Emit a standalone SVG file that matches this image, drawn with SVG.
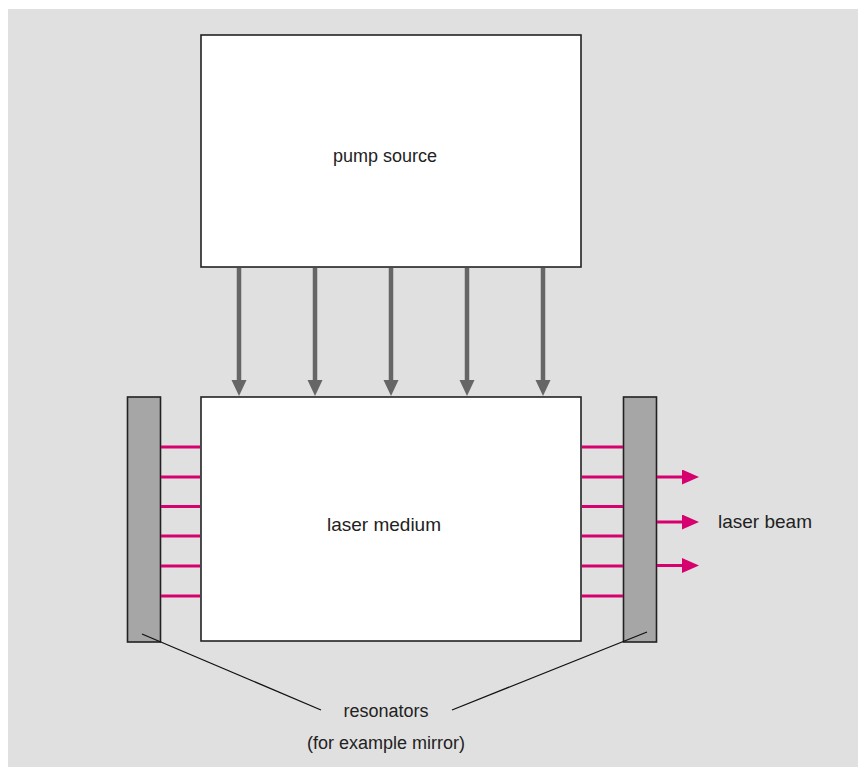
<svg xmlns="http://www.w3.org/2000/svg" width="858" height="767" viewBox="0 0 858 767">
<style>
.box{fill:#ffffff;stroke:#222222;stroke-width:1.6}
.mirror{fill:#a6a6a6;stroke:#222222;stroke-width:1.6}
.pump{stroke:#666666;stroke-width:4.5;fill:none}
.beam{stroke:#d6006e;stroke-width:3;fill:none}
.leader{stroke:#111111;stroke-width:1.3;fill:none}
text{font-family:"Liberation Sans",Arial,sans-serif;fill:#222222;font-size:18px;text-anchor:middle}
</style>
<defs>
<marker id="grayhead" markerUnits="userSpaceOnUse" markerWidth="16" markerHeight="16" refX="5" refY="7.5" orient="auto">
<path d="M0,0 L16,7.5 L0,15 z" fill="#666666"/>
</marker>
<marker id="pinkhead" markerUnits="userSpaceOnUse" markerWidth="17" markerHeight="16" refX="5" refY="7.5" orient="auto">
<path d="M0,0 L17,7.5 L0,15 z" fill="#d6006e"/>
</marker>
</defs>
<rect x="8" y="9" width="850" height="758" fill="#e0e0e0"/>
<g id="pump-source">
<rect class="box" x="201" y="35" width="380" height="232"/>
<text x="385" y="162">pump source</text>
</g>
<g id="laser-medium">
<rect class="box" x="201" y="397" width="380" height="244"/>
<text x="384" y="531" style="font-size:19px">laser medium</text>
</g>
<g id="mirror-left">
<rect class="mirror" x="127.5" y="397" width="33" height="245"/>
</g>
<g id="mirror-right">
<rect class="mirror" x="623.5" y="397" width="33" height="245"/>
</g>
<g id="laser-beam-label">
<text x="765" y="528" style="font-size:19px">laser beam</text>
</g>
<g id="resonators-label">
<text x="386" y="717">resonators</text>
<text x="386" y="749">(for example mirror)</text>
</g>
<g id="connectors">
<line class="pump" x1="239" y1="268" x2="239" y2="385" marker-end="url(#grayhead)"/>
<line class="pump" x1="315" y1="268" x2="315" y2="385" marker-end="url(#grayhead)"/>
<line class="pump" x1="391" y1="268" x2="391" y2="385" marker-end="url(#grayhead)"/>
<line class="pump" x1="467" y1="268" x2="467" y2="385" marker-end="url(#grayhead)"/>
<line class="pump" x1="543" y1="268" x2="543" y2="385" marker-end="url(#grayhead)"/>
<line class="beam" x1="161" y1="447" x2="200" y2="447"/>
<line class="beam" x1="161" y1="477" x2="200" y2="477"/>
<line class="beam" x1="161" y1="506.5" x2="200" y2="506.5"/>
<line class="beam" x1="161" y1="536" x2="200" y2="536"/>
<line class="beam" x1="161" y1="566" x2="200" y2="566"/>
<line class="beam" x1="161" y1="596" x2="200" y2="596"/>
<line class="beam" x1="582" y1="447" x2="623" y2="447"/>
<line class="beam" x1="582" y1="477" x2="623" y2="477"/>
<line class="beam" x1="582" y1="506.5" x2="623" y2="506.5"/>
<line class="beam" x1="582" y1="536" x2="623" y2="536"/>
<line class="beam" x1="582" y1="566" x2="623" y2="566"/>
<line class="beam" x1="582" y1="596" x2="623" y2="596"/>
<line class="beam" x1="657" y1="477" x2="687" y2="477" marker-end="url(#pinkhead)"/>
<line class="beam" x1="657" y1="522" x2="687" y2="522" marker-end="url(#pinkhead)"/>
<line class="beam" x1="657" y1="565.5" x2="687" y2="565.5" marker-end="url(#pinkhead)"/>
<line class="leader" x1="142" y1="634" x2="321" y2="710"/>
<line class="leader" x1="452" y1="710" x2="647" y2="632"/>
</g>
</svg>
